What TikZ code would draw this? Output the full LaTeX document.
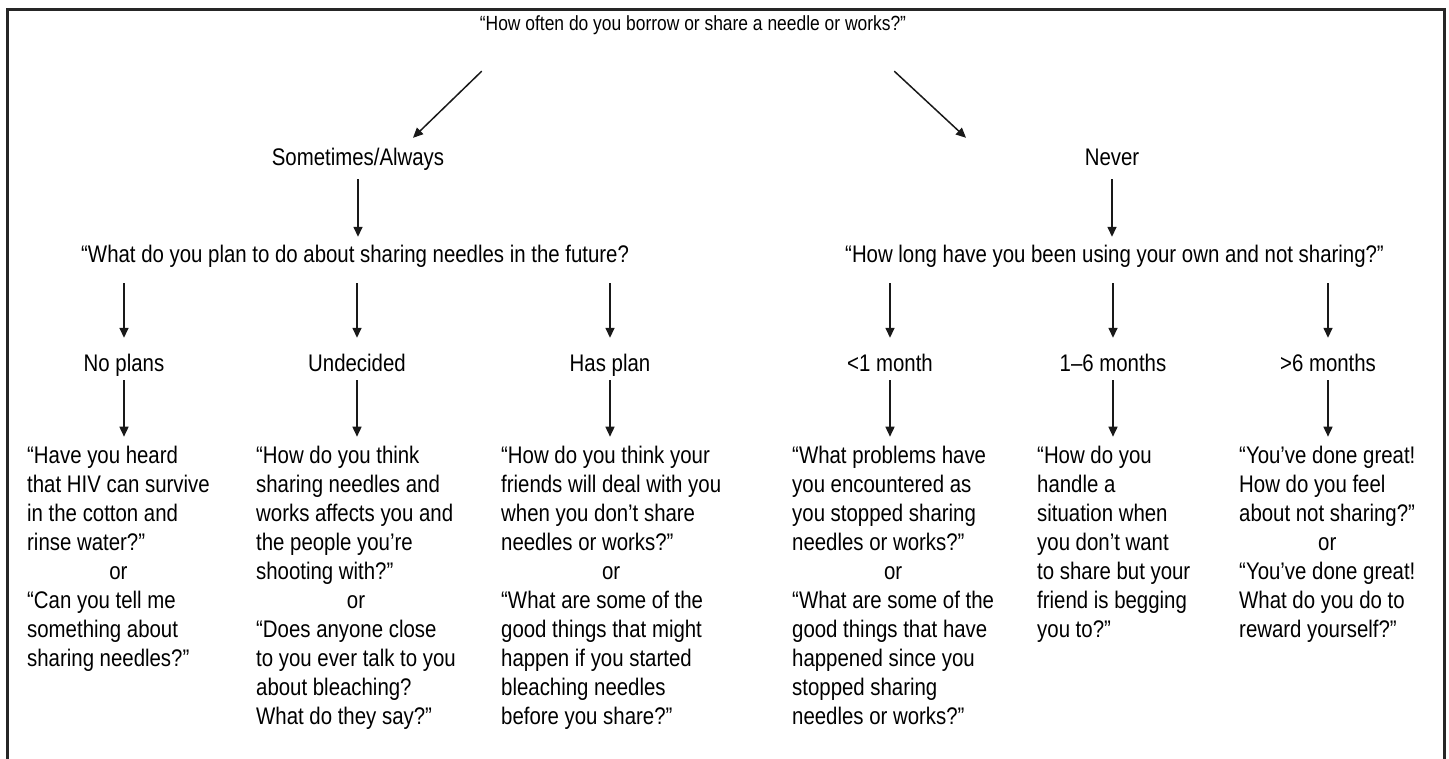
\documentclass[tikz,border=0pt]{standalone}
\usepackage{fontspec}
\setmainfont{Liberation Sans}[FakeStretch=0.85]
\usetikzlibrary{arrows.meta}

\tikzset{
  txt/.style={font=\fontsize{24}{29}\selectfont, inner sep=0pt,
    text height=17pt, text depth=5pt, anchor=base},
  blk/.style={font=\fontsize{24}{29}\selectfont, inner sep=0pt, anchor=north west},
  arr/.style={-{Triangle[length=10pt,width=9pt]}, line width=1.5pt, black!90},
}

% answer blocks: left aligned lines, "or" centred on the block
\newcommand{\answer}[1]{\begin{tabular}{@{}l@{}}#1\end{tabular}}
\newcommand{\orrow}{\multicolumn{1}{@{}c@{}}{or}}

\begin{document}
\begin{tikzpicture}[x=1pt,y=-1pt]
\useasboundingbox (0,0) rectangle (1449,758);

% ------------------------------------------------------------------
% Frame, open at the bottom
% ------------------------------------------------------------------
\draw[black!85, line width=3pt] (7.5,760) -- (7.5,9.5) -- (1444.5,9.5) -- (1444.5,760);

% ------------------------------------------------------------------
% Question and first split
% ------------------------------------------------------------------
\node[txt, font=\fontsize{20.5}{25}\selectfont] (often) at (693,30)
  {“How often do you borrow or share a needle or works?”};
\node[txt] (some) at (358,165) {Sometimes/Always};
\node[txt] (never) at (1112,165) {Never};

\draw[arr] ([xshift=2pt,yshift=-36pt]often.south west) -- ([xshift=55pt,yshift=10pt]some.north);
\draw[arr] ([xshift=-12pt,yshift=-36pt]often.south east) -- ([xshift=-146pt,yshift=10pt]never.north);

% ------------------------------------------------------------------
% Follow-up questions
% ------------------------------------------------------------------
\node[txt, anchor=base west] (plan) at (81,262)
  {“What do you plan to do about sharing needles in the future?};
\node[txt, anchor=base west] (howlong) at (845,262)
  {“How long have you been using your own and not sharing?”};

\draw[arr, shorten <=9pt, shorten >=8pt] (some.south) -- (some.south |- plan.north);
\draw[arr, shorten <=9pt, shorten >=8pt] (never.south) -- (never.south |- howlong.north);

% ------------------------------------------------------------------
% Answers
% ------------------------------------------------------------------
\node[txt] (noplan) at (124,371) {No plans};
\node[txt] (undec) at (357,371) {Undecided};
\node[txt] (hasplan) at (610,371) {Has plan};
\node[txt] (lt1) at (890,371) {<1 month};
\node[txt] (m16) at (1113,371) {1–6 months};
\node[txt] (gt6) at (1328,371) {>6 months};

\foreach \a in {noplan,undec,hasplan}
  \draw[arr, shorten <=16pt, shorten >=16pt] (\a.north |- plan.south) -- (\a.north);
\foreach \a in {lt1,m16,gt6}
  \draw[arr, shorten <=16pt, shorten >=16pt] (\a.north |- howlong.south) -- (\a.north);

% ------------------------------------------------------------------
% What to say next
% ------------------------------------------------------------------
\node[blk] (b1) at (27,442.7) {\answer{%
  “Have you heard\\ that HIV can survive\\ in the cotton and\\ rinse water?”\\ \orrow\\
  “Can you tell me\\ something about\\ sharing needles?”}};
\node[blk] (b2) at (256,442.7) {\answer{%
  “How do you think\\ sharing needles and\\ works affects you and\\ the people you’re\\ shooting with?”\\ \orrow\\
  “Does anyone close\\ to you ever talk to you\\ about bleaching?\\ What do they say?”}};
\node[blk] (b3) at (501,442.7) {\answer{%
  “How do you think your\\ friends will deal with you\\ when you don’t share\\ needles or works?”\\ \orrow\\
  “What are some of the\\ good things that might\\ happen if you started\\ bleaching needles\\ before you share?”}};
\node[blk] (b4) at (792,442.7) {\answer{%
  “What problems have\\ you encountered as\\ you stopped sharing\\ needles or works?”\\ \orrow\\
  “What are some of the\\ good things that have\\ happened since you\\ stopped sharing\\ needles or works?”}};
\node[blk] (b5) at (1037,442.7) {\answer{%
  “How do you\\ handle a\\ situation when\\ you don’t want\\ to share but your\\ friend is begging\\ you to?”}};
\node[blk] (b6) at (1239,442.7) {\answer{%
  “You’ve done great!\\ How do you feel\\ about not sharing?”\\ \orrow\\
  “You’ve done great!\\ What do you do to\\ reward yourself?”}};

\draw[arr, shorten <=4pt, shorten >=6pt] (noplan.south) -- (noplan.south |- b1.north);
\draw[arr, shorten <=4pt, shorten >=6pt] (undec.south) -- (undec.south |- b2.north);
\draw[arr, shorten <=4pt, shorten >=6pt] (hasplan.south) -- (hasplan.south |- b3.north);
\draw[arr, shorten <=4pt, shorten >=6pt] (lt1.south) -- (lt1.south |- b4.north);
\draw[arr, shorten <=4pt, shorten >=6pt] (m16.south) -- (m16.south |- b5.north);
\draw[arr, shorten <=4pt, shorten >=6pt] (gt6.south) -- (gt6.south |- b6.north);

\end{tikzpicture}
\end{document}
